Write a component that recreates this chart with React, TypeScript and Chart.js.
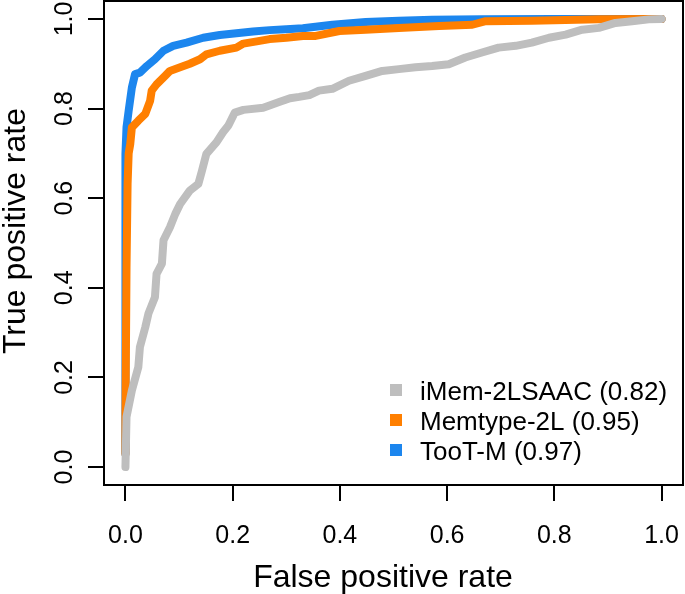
import React, { useEffect, useRef } from "react";
import { Chart, registerables } from "chart.js";

Chart.register(...registerables);

// ---------- data ----------
const X_TICKS = [0, 0.2, 0.4, 0.6, 0.8, 1.0];
const Y_TICKS = [0, 0.2, 0.4, 0.6, 0.8, 1.0];
const SERIES_NAMES = ["iMem-2LSAAC (0.82)", "Memtype-2L (0.95)", "TooT-M (0.97)"];
const SERIES_COLORS = ["#BEBEBE", "#FF7F00", "#1C86EE"];
const X_TITLE = "False positive rate";
const Y_TITLE = "True positive rate";

const IMEM_FPR = [0, 0.002, 0.012, 0.024, 0.027, 0.037, 0.043, 0.055, 0.058, 0.068, 0.071, 0.083, 0.093, 0.102, 0.12, 0.136, 0.142, 0.151, 0.17, 0.182, 0.192, 0.204, 0.22, 0.257, 0.288, 0.307, 0.324, 0.343, 0.361, 0.386, 0.417, 0.448, 0.479, 0.51, 0.541, 0.572, 0.603, 0.634, 0.665, 0.696, 0.728, 0.758, 0.79, 0.821, 0.852, 0.883, 0.914, 0.945, 0.976, 1.0];
const IMEM_TPR = [0, 0.112, 0.171, 0.223, 0.268, 0.312, 0.343, 0.379, 0.431, 0.454, 0.506, 0.535, 0.565, 0.587, 0.617, 0.632, 0.658, 0.699, 0.725, 0.747, 0.762, 0.791, 0.797, 0.802, 0.815, 0.823, 0.826, 0.83, 0.84, 0.844, 0.862, 0.873, 0.884, 0.888, 0.892, 0.895, 0.899, 0.914, 0.925, 0.936, 0.94, 0.947, 0.958, 0.965, 0.976, 0.98, 0.991, 0.995, 0.999, 1.0];

const MEMTYPE_FPR = [0, 0.0, 0.002, 0.004, 0.006, 0.009, 0.012, 0.024, 0.037, 0.046, 0.049, 0.058, 0.074, 0.083, 0.102, 0.12, 0.139, 0.151, 0.176, 0.207, 0.22, 0.245, 0.269, 0.3, 0.331, 0.355, 0.399, 0.448, 0.51, 0.585, 0.647, 0.672, 0.758, 0.883, 0.982, 1.0];
const MEMTYPE_TPR = [0.03, 0.112, 0.446, 0.632, 0.7, 0.721, 0.758, 0.773, 0.788, 0.817, 0.84, 0.854, 0.873, 0.884, 0.892, 0.9, 0.91, 0.921, 0.929, 0.936, 0.945, 0.95, 0.955, 0.958, 0.962, 0.962, 0.973, 0.976, 0.98, 0.984, 0.987, 0.995, 0.996, 0.999, 1.0, 1.0];

const TOOT_FPR = [0, 0, 0.002, 0.006, 0.012, 0.018, 0.027, 0.04, 0.055, 0.071, 0.089, 0.114, 0.145, 0.176, 0.207, 0.238, 0.269, 0.3, 0.331, 0.386, 0.448, 0.51, 0.572, 0.665, 0.8, 1.0];
const TOOT_TPR = [0.03, 0.699, 0.758, 0.795, 0.847, 0.877, 0.88, 0.895, 0.91, 0.929, 0.94, 0.947, 0.958, 0.964, 0.968, 0.972, 0.975, 0.977, 0.979, 0.987, 0.993, 0.996, 0.998, 0.999, 1.0, 1.0];

const SERIES_X = [IMEM_FPR, MEMTYPE_FPR, TOOT_FPR];
const SERIES_Y = [IMEM_TPR, MEMTYPE_TPR, TOOT_TPR];

// ---------- style ----------
const FONT = '"Liberation Sans", Arial, Helvetica, sans-serif';
const TICK_SIZE = 25;
const TITLE_SIZE = 32;
const LEGEND_SIZE = 26;

const framePlugin = {
  id: "rframe",
  afterDraw(chart: any) {
    const { ctx, chartArea } = chart;
    const ys = chart.scales.y;
    ctx.save();
    ctx.strokeStyle = "#000";
    ctx.lineWidth = 2;
    ctx.strokeRect(chartArea.left, chartArea.top, chartArea.right - chartArea.left, chartArea.bottom - chartArea.top);

    ctx.fillStyle = "#000";
    ctx.font = `${TICK_SIZE}px ${FONT}`;
    ctx.textAlign = "center";
    ctx.textBaseline = "alphabetic";
    ys.ticks.forEach((t: any) => {
      const py = ys.getPixelForValue(t.value);
      ctx.save();
      ctx.translate(chartArea.left - 32, py);
      ctx.rotate(-Math.PI / 2);
      ctx.fillText(Number(t.value).toFixed(1), 0, 0);
      ctx.restore();
    });

    ctx.font = `${TITLE_SIZE}px ${FONT}`;
    ctx.fillText(X_TITLE, 383, 587);
    ctx.save();
    ctx.translate(25, 231);
    ctx.rotate(-Math.PI / 2);
    ctx.fillText(Y_TITLE, 0, 0);
    ctx.restore();

    ctx.font = `${LEGEND_SIZE}px ${FONT}`;
    ctx.textAlign = "left";
    ctx.textBaseline = "alphabetic";
    const rowBase = [400, 430, 460];
    SERIES_NAMES.forEach((name, i) => {
      ctx.fillStyle = SERIES_COLORS[i];
      ctx.fillRect(390, rowBase[i] - 16, 12, 12);
      ctx.fillStyle = "#000";
      ctx.fillText(name, 420, rowBase[i]);
    });
    ctx.restore();
  },
};

export default function App() {
  const ref = useRef<HTMLCanvasElement | null>(null);

  useEffect(() => {
    document.body.style.margin = "0";
    const canvas = ref.current;
    if (!canvas) return;
    const datasets = SERIES_NAMES.map((name, i) => ({
      label: name,
      data: SERIES_X[i].map((x, j) => ({ x, y: SERIES_Y[i][j] })),
      showLine: true,
      borderColor: SERIES_COLORS[i],
      backgroundColor: SERIES_COLORS[i],
      borderWidth: 8,
      pointRadius: 0,
      pointHoverRadius: 0,
      fill: false,
      tension: 0,
      borderJoinStyle: "round" as const,
      borderCapStyle: "round" as const,
    }));

    const chart = new Chart(canvas, {
      type: "scatter",
      data: { datasets },
      options: {
        animation: false,
        responsive: false,
        maintainAspectRatio: false,
        layout: { padding: { top: 1, right: 2, left: 0, bottom: 0 } },
        plugins: { legend: { display: false }, tooltip: { enabled: false } },
        scales: {
          x: {
            type: "linear",
            min: -0.04,
            max: 1.04,
            afterBuildTicks: (s: any) => {
              s.ticks = X_TICKS.map((v) => ({ value: v }));
            },
            afterFit: (s: any) => {
              s.height = 109;
              s.paddingLeft = 0;
              s.paddingRight = 0;
            },
            ticks: {
              color: "#000",
              font: { family: FONT, size: TICK_SIZE },
              padding: 20,
              maxRotation: 0,
              autoSkip: false,
              callback: (v: any) => Number(v).toFixed(1),
            },
            grid: {
              drawOnChartArea: false,
              drawTicks: true,
              tickLength: 16,
              color: "#000",
              lineWidth: 2,
            },
            border: { display: false },
          },
          y: {
            type: "linear",
            min: -0.04,
            max: 1.04,
            afterBuildTicks: (s: any) => {
              s.ticks = Y_TICKS.map((v) => ({ value: v }));
            },
            afterFit: (s: any) => {
              s.width = 104;
              s.paddingTop = 0;
              s.paddingBottom = 0;
            },
            ticks: { display: false },
            grid: {
              drawOnChartArea: false,
              drawTicks: true,
              tickLength: 16,
              color: "#000",
              lineWidth: 2,
            },
            border: { display: false },
          },
        },
      },
      plugins: [framePlugin],
    });
    return () => chart.destroy();
  }, []);

  return (
    <div style={{ width: 685, height: 594, background: "#fff" }}>
      <canvas ref={ref} width={685} height={594} style={{ display: "block" }} />
    </div>
  );
}
